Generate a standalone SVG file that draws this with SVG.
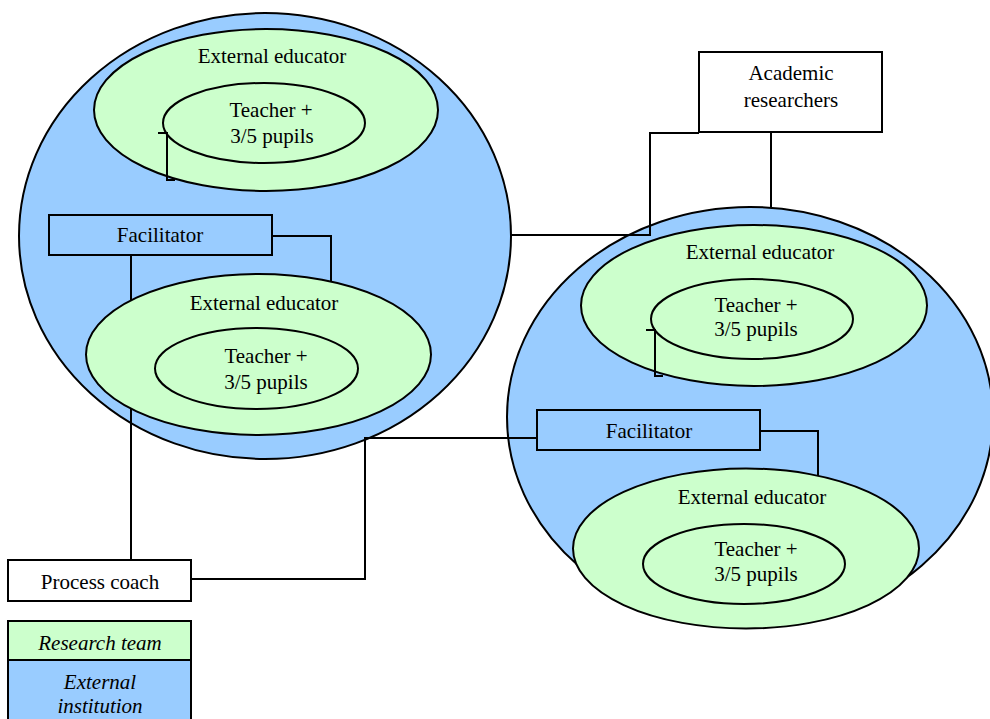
<svg xmlns="http://www.w3.org/2000/svg" width="990" height="719" viewBox="0 0 990 719">
<style>
.inst{fill:#99CCFF;stroke:#000;stroke-width:2}
.team{fill:#CCFFCC;stroke:#000;stroke-width:2}
.box{fill:#fff;stroke:#000;stroke-width:2}
.fbox{fill:#99CCFF;stroke:#000;stroke-width:2}
.con{fill:none;stroke:#000;stroke-width:2}
.t{font-family:'Liberation Serif','Times New Roman',Times,Tinos,'Noto Serif','DejaVu Serif',serif;font-size:21px;fill:#000;text-anchor:middle}
.it{font-style:italic}
</style>
<rect width="990" height="719" fill="#fff"/>
<g id="institution-left"><ellipse class="inst" cx="265" cy="236" rx="246" ry="223"/></g>
<g id="institution-right"><ellipse class="inst" cx="750" cy="417" rx="243" ry="210"/></g>
<g id="connectors">
<path class="con" d="M272,236 H331 V282"/>
<path class="con" d="M131,255 V560"/>
<path class="con" d="M191,579 H365 V438 H537"/>
<path class="con" d="M511,235 H650 V133 H699"/>
<path class="con" d="M771,132 V207"/>
<path class="con" d="M760,431 H818 V477"/>
</g>
<g id="educator-left-top">
<ellipse class="team" cx="266" cy="110" rx="172" ry="81"/>
<text class="t" x="272" y="63">External educator</text>
</g>
<g id="teacher-left-top">
<ellipse class="team" cx="264" cy="123" rx="101" ry="40"/>
<text class="t" x="271" y="117">Teacher +</text>
<text class="t" x="272" y="143">3/5 pupils</text>
</g>
<g id="facilitator-left">
<rect class="fbox" x="49" y="215" width="223" height="40"/>
<text class="t" x="160" y="242">Facilitator</text>
</g>
<g id="educator-left-bottom">
<ellipse class="team" cx="258.5" cy="354.5" rx="172.5" ry="80.5"/>
<text class="t" x="264" y="310">External educator</text>
</g>
<g id="teacher-left-bottom">
<ellipse class="team" cx="256.5" cy="368.5" rx="101.5" ry="40.5"/>
<text class="t" x="266" y="363">Teacher +</text>
<text class="t" x="266" y="389">3/5 pupils</text>
</g>
<g id="academic-researchers">
<rect class="box" x="699" y="52" width="183" height="80"/>
<text class="t" x="791" y="80">Academic</text>
<text class="t" x="791" y="107">researchers</text>
</g>
<g id="educator-right-top">
<ellipse class="team" cx="754" cy="305.5" rx="173" ry="80.5"/>
<text class="t" x="760" y="259">External educator</text>
</g>
<g id="teacher-right-top">
<ellipse class="team" cx="752" cy="319" rx="101" ry="40"/>
<text class="t" x="756" y="312">Teacher +</text>
<text class="t" x="756" y="336">3/5 pupils</text>
</g>
<g id="facilitator-right">
<rect class="fbox" x="537" y="410" width="223" height="40"/>
<text class="t" x="649" y="438">Facilitator</text>
</g>
<g id="educator-right-bottom">
<ellipse class="team" cx="746" cy="548.5" rx="173" ry="80"/>
<text class="t" x="752" y="504">External educator</text>
</g>
<g id="teacher-right-bottom">
<ellipse class="team" cx="744" cy="564" rx="101" ry="40"/>
<text class="t" x="756" y="556">Teacher +</text>
<text class="t" x="756" y="581">3/5 pupils</text>
</g>
<g id="process-coach">
<rect class="box" x="8" y="560" width="183" height="41"/>
<text class="t" x="100" y="589">Process coach</text>
</g>
<g id="legend">
<rect class="team" x="8" y="621" width="183" height="39"/>
<text class="t it" x="100" y="650">Research team</text>
<rect class="inst" x="8" y="660" width="183" height="70"/>
<text class="t it" x="100" y="689">External</text>
<text class="t it" x="100" y="713">institution</text>
</g>
<g id="bracket-connectors">
<path class="con" d="M158,133 H167 V180 H175"/>
<path class="con" d="M646,330 H655 V376 H663"/>
</g>
</svg>
